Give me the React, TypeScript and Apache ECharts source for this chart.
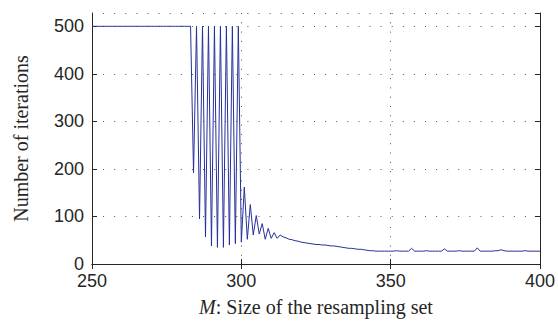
import React, { useEffect, useRef } from "react";
import * as echarts from "echarts";

// M: size of the resampling set, one value per integer M starting here
const startM = 250;
// Number of iterations for M = 250, 251, ..., 400
const iterations: number[] = [
  // 250-283
  500, 500, 500, 500, 500, 500, 500, 500, 500, 500,
  500, 500, 500, 500, 500, 500, 500, 500, 500, 500,
  500, 500, 500, 500, 500, 500, 500, 500, 500, 500,
  500, 500, 500, 500,
  // 284-300
  192, 500, 95, 500, 57, 500, 38, 500, 35, 500, 35, 500, 40, 500, 43, 500, 46,
  // 301-313
  162, 52, 125, 61, 102, 63, 85, 52, 75, 54, 66, 54, 61,
  // 314-350
  57, 55, 52, 51, 49, 48, 46, 45, 44, 43, 42, 41, 41, 40, 40, 39, 38, 38, 37,
  36, 35, 34, 33, 33, 32, 31, 31, 30, 29, 28, 28, 27, 27, 27, 27, 27, 27,
  // 351-400
  27, 28, 27, 27, 27, 27, 33, 27, 27, 27,
  27, 28, 27, 27, 27, 27, 27, 32, 27, 27,
  27, 27, 28, 27, 27, 27, 27, 27, 34, 27,
  27, 27, 27, 27, 28, 28, 30, 28, 27, 27,
  27, 27, 27, 27, 28, 27, 27, 27, 27, 27,
];

const xMin = 250;
const xMax = 400;
const xStep = 50;
const yMin = 0;
const yMax = 528;
const yStep = 100;

const xTitle = "{i|M}: Size of the resampling set";
const yTitle = "Number of iterations";

export default function App() {
  const ref = useRef<HTMLDivElement>(null);

  useEffect(() => {
    if (!ref.current) return;
    const chart = echarts.init(ref.current, undefined, { renderer: "svg" });
    const data = iterations.map((v, i) => [startM + i, v]);
    const axisColor = "#262626";
    const labelFont = "'Liberation Sans', Arial, Helvetica, sans-serif";
    const serifFont = "'Liberation Serif', 'Times New Roman', serif";
    const gridColor = "#555";

    chart.setOption({
      animation: false,
      backgroundColor: "#fff",
      grid: { left: 92, right: 18, top: 13, bottom: 54, containLabel: false },
      xAxis: [
        {
          type: "value",
          min: xMin,
          max: xMax,
          interval: xStep,
          position: "bottom",
          name: xTitle,
          nameLocation: "middle",
          nameGap: 33,
          nameTextStyle: {
            fontFamily: serifFont,
            fontSize: 20,
            color: axisColor,
            rich: {
              i: { fontFamily: serifFont, fontSize: 20, fontStyle: "italic", color: axisColor },
            },
          },
          axisLine: { show: true, lineStyle: { color: axisColor, width: 1 } },
          axisTick: { show: true, inside: true, length: 5, lineStyle: { color: axisColor } },
          axisLabel: { fontFamily: labelFont, fontSize: 18, color: axisColor, margin: 8 },
          splitLine: {
            show: true,
            lineStyle: { color: gridColor, width: 1, type: [1, 8.3] },
          },
        },
        {
          type: "value",
          min: xMin,
          max: xMax,
          interval: xStep,
          position: "top",
          axisLine: { show: true, lineStyle: { color: axisColor, width: 1 } },
          axisTick: { show: true, inside: true, length: 5, lineStyle: { color: axisColor } },
          axisLabel: { show: false },
          splitLine: { show: false },
        },
      ],
      yAxis: [
        {
          type: "value",
          min: yMin,
          max: yMax,
          interval: yStep,
          position: "left",
          name: yTitle,
          nameLocation: "middle",
          nameGap: 61,
          nameTextStyle: { fontFamily: serifFont, fontSize: 20, color: axisColor },
          axisLine: { show: true, lineStyle: { color: axisColor, width: 1 } },
          axisTick: { show: true, inside: true, length: 5, lineStyle: { color: axisColor } },
          axisLabel: {
            fontFamily: labelFont,
            fontSize: 18,
            color: axisColor,
            margin: 8,
            showMaxLabel: false,
          },
          splitLine: {
            show: true,
            lineStyle: { color: gridColor, width: 1, type: [1, 10.1] },
          },
        },
        {
          type: "value",
          min: yMin,
          max: yMax,
          interval: yStep,
          position: "right",
          axisLine: { show: true, lineStyle: { color: axisColor, width: 1 } },
          axisTick: { show: true, inside: true, length: 5, lineStyle: { color: axisColor } },
          axisLabel: { show: false },
          splitLine: { show: false },
        },
      ],
      series: [
        {
          type: "line",
          xAxisIndex: 0,
          yAxisIndex: 0,
          data,
          showSymbol: false,
          symbol: "none",
          lineStyle: { color: "#27309a", width: 1 },
          z: 3,
        },
      ],
    });

    return () => chart.dispose();
  }, []);

  return (
    <div
      ref={ref}
      style={{ position: "fixed", left: 0, top: 0, width: 558, height: 322 }}
    />
  );
}
